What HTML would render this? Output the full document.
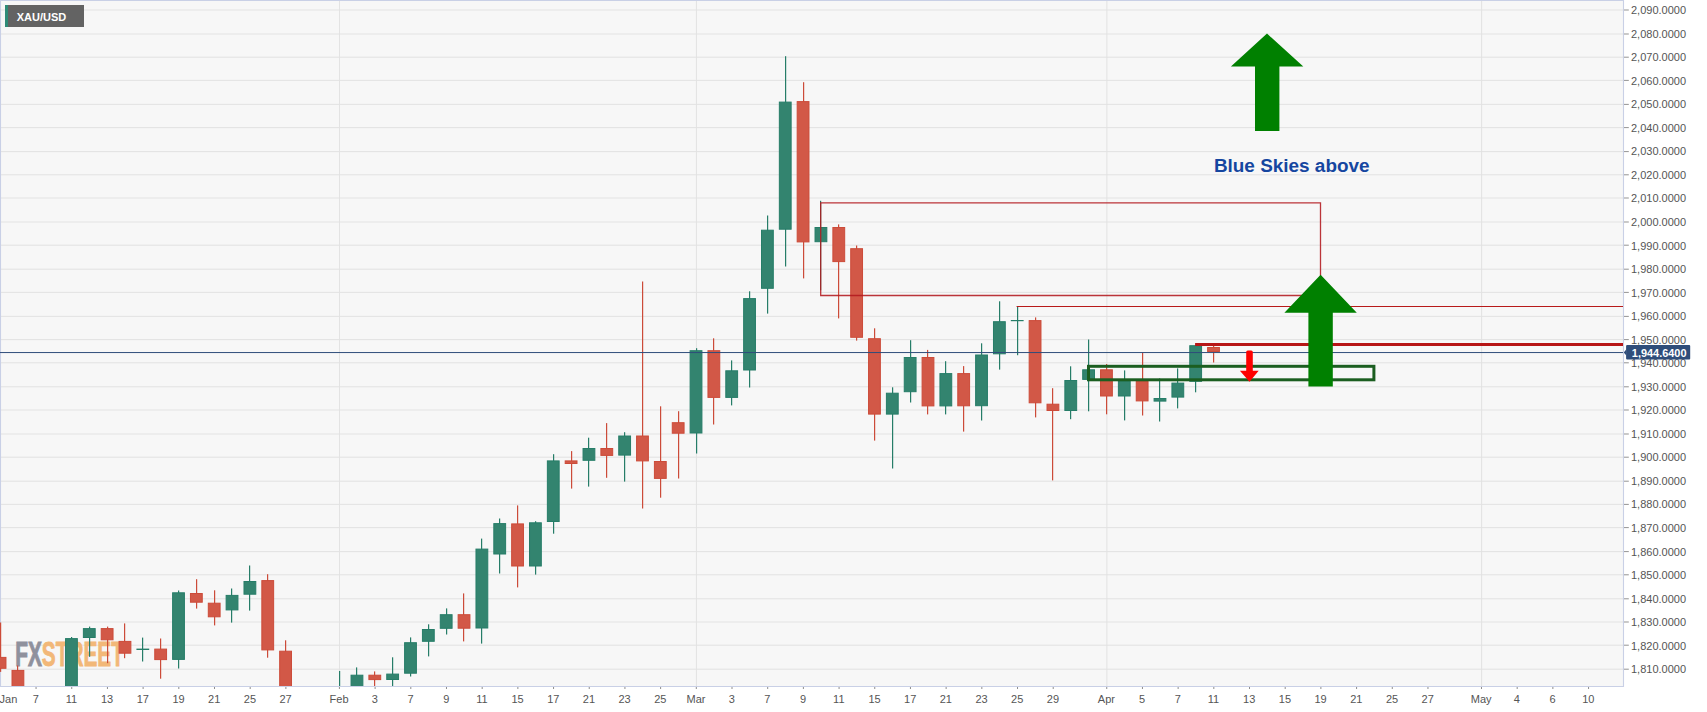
<!DOCTYPE html>
<html><head><meta charset="utf-8"><title>XAU/USD</title>
<style>
html,body{margin:0;padding:0;background:#fff;}
body{width:1707px;height:712px;overflow:hidden;}
svg{display:block;}
text{font-family:"Liberation Sans",Arial,sans-serif;}
</style></head><body>
<svg width="1707" height="712" viewBox="0 0 1707 712">
<defs><clipPath id="cp"><rect x="0" y="0" width="1623" height="686"/></clipPath></defs>
<rect x="0" y="0" width="1707" height="712" fill="#ffffff"/>
<rect x="0" y="0" width="1624" height="687" fill="#f7f7f7"/>
<g stroke="#e2e2e2" stroke-width="0.95">
<line x1="0" y1="669.20" x2="1623" y2="669.20"/>
<line x1="0" y1="645.20" x2="1623" y2="645.20"/>
<line x1="0" y1="622.00" x2="1623" y2="622.00"/>
<line x1="0" y1="598.80" x2="1623" y2="598.80"/>
<line x1="0" y1="574.80" x2="1623" y2="574.80"/>
<line x1="0" y1="551.60" x2="1623" y2="551.60"/>
<line x1="0" y1="527.60" x2="1623" y2="527.60"/>
<line x1="0" y1="504.40" x2="1623" y2="504.40"/>
<line x1="0" y1="481.20" x2="1623" y2="481.20"/>
<line x1="0" y1="457.20" x2="1623" y2="457.20"/>
<line x1="0" y1="434.00" x2="1623" y2="434.00"/>
<line x1="0" y1="410.00" x2="1623" y2="410.00"/>
<line x1="0" y1="386.80" x2="1623" y2="386.80"/>
<line x1="0" y1="362.80" x2="1623" y2="362.80"/>
<line x1="0" y1="339.60" x2="1623" y2="339.60"/>
<line x1="0" y1="316.40" x2="1623" y2="316.40"/>
<line x1="0" y1="292.40" x2="1623" y2="292.40"/>
<line x1="0" y1="269.20" x2="1623" y2="269.20"/>
<line x1="0" y1="245.20" x2="1623" y2="245.20"/>
<line x1="0" y1="222.00" x2="1623" y2="222.00"/>
<line x1="0" y1="198.00" x2="1623" y2="198.00"/>
<line x1="0" y1="174.80" x2="1623" y2="174.80"/>
<line x1="0" y1="151.60" x2="1623" y2="151.60"/>
<line x1="0" y1="127.60" x2="1623" y2="127.60"/>
<line x1="0" y1="104.40" x2="1623" y2="104.40"/>
<line x1="0" y1="80.40" x2="1623" y2="80.40"/>
<line x1="0" y1="57.20" x2="1623" y2="57.20"/>
<line x1="0" y1="34.00" x2="1623" y2="34.00"/>
<line x1="0" y1="10.00" x2="1623" y2="10.00"/>
<line x1="339.51" y1="0" x2="339.51" y2="686"/>
<line x1="696.41" y1="0" x2="696.41" y2="686"/>
<line x1="1106.85" y1="0" x2="1106.85" y2="686"/>
<line x1="1481.60" y1="0" x2="1481.60" y2="686"/>
</g>
<g fill="none" stroke="#c9d0e6" stroke-width="1.1"><path d="M0.5 686.5 L0.5 0.5 L1623.5 0.5 L1623.5 686.5 Z"/></g>
<g transform="translate(15.2,666.4) scale(0.585,1)" font-weight="bold" font-size="35.6px" stroke-width="0.9" stroke-linejoin="miter"><text x="0" y="0" fill="#8f919d" stroke="#8f919d" vector-effect="non-scaling-stroke">FX<tspan fill="#f2b878" stroke="#f2b878">STREET</tspan></text></g>
<g clip-path="url(#cp)">
<rect x="0" y="622.5" width="1.2" height="49.4" fill="#cc4b39"/>
<rect x="-5.84" y="657.4" width="11.8" height="10.9" fill="#d25847" stroke="#cc4b39" stroke-width="1"/>
<rect x="17" y="665.5" width="1.2" height="34.5" fill="#cc4b39"/>
<rect x="12.01" y="670.4" width="11.8" height="29.1" fill="#d25847" stroke="#cc4b39" stroke-width="1"/>
<rect x="71" y="637.0" width="1.2" height="63.0" fill="#267d68"/>
<rect x="65.54" y="638.6" width="11.8" height="60.9" fill="#33846f" stroke="#267d68" stroke-width="1"/>
<rect x="89" y="626.6" width="1.2" height="30.2" fill="#267d68"/>
<rect x="83.38" y="628.6" width="11.8" height="8.9" fill="#33846f" stroke="#267d68" stroke-width="1"/>
<rect x="107" y="626.6" width="1.2" height="36.6" fill="#cc4b39"/>
<rect x="101.23" y="628.6" width="11.8" height="11.2" fill="#d25847" stroke="#cc4b39" stroke-width="1"/>
<rect x="124" y="623.4" width="1.2" height="34.8" fill="#cc4b39"/>
<rect x="119.07" y="641.4" width="11.8" height="11.8" fill="#d25847" stroke="#cc4b39" stroke-width="1"/>
<rect x="142" y="637.6" width="1.2" height="23.9" fill="#267d68"/>
<rect x="136.42" y="648.6" width="12.8" height="1.4" fill="#267d68"/>
<rect x="160" y="638.5" width="1.2" height="40.2" fill="#cc4b39"/>
<rect x="154.76" y="649.1" width="11.8" height="10.5" fill="#d25847" stroke="#cc4b39" stroke-width="1"/>
<rect x="178" y="590.5" width="1.2" height="78.0" fill="#267d68"/>
<rect x="172.61" y="592.8" width="11.8" height="66.6" fill="#33846f" stroke="#267d68" stroke-width="1"/>
<rect x="196" y="579.2" width="1.2" height="29.4" fill="#cc4b39"/>
<rect x="190.45" y="593.5" width="11.8" height="8.7" fill="#d25847" stroke="#cc4b39" stroke-width="1"/>
<rect x="214" y="590.3" width="1.2" height="35.1" fill="#cc4b39"/>
<rect x="208.30" y="603.2" width="11.8" height="13.6" fill="#d25847" stroke="#cc4b39" stroke-width="1"/>
<rect x="231" y="588.5" width="1.2" height="34.1" fill="#267d68"/>
<rect x="226.14" y="595.4" width="11.8" height="14.5" fill="#33846f" stroke="#267d68" stroke-width="1"/>
<rect x="249" y="565.5" width="1.2" height="45.1" fill="#267d68"/>
<rect x="243.99" y="581.5" width="11.8" height="12.7" fill="#33846f" stroke="#267d68" stroke-width="1"/>
<rect x="267" y="574.2" width="1.2" height="83.5" fill="#cc4b39"/>
<rect x="261.84" y="580.6" width="11.8" height="69.3" fill="#d25847" stroke="#cc4b39" stroke-width="1"/>
<rect x="285" y="640.3" width="1.2" height="59.7" fill="#cc4b39"/>
<rect x="279.68" y="651.2" width="11.8" height="48.3" fill="#d25847" stroke="#cc4b39" stroke-width="1"/>
<rect x="339" y="671.0" width="1.2" height="29.0" fill="#267d68"/>
<rect x="332.72" y="699.0" width="12.8" height="1.2" fill="#267d68"/>
<rect x="356" y="667.4" width="1.2" height="32.6" fill="#267d68"/>
<rect x="351.06" y="675.2" width="11.8" height="24.3" fill="#33846f" stroke="#267d68" stroke-width="1"/>
<rect x="374" y="671.4" width="1.2" height="28.6" fill="#cc4b39"/>
<rect x="368.90" y="675.2" width="11.8" height="4.4" fill="#d25847" stroke="#cc4b39" stroke-width="1"/>
<rect x="392" y="657.3" width="1.2" height="42.7" fill="#267d68"/>
<rect x="386.75" y="674.1" width="11.8" height="5.4" fill="#33846f" stroke="#267d68" stroke-width="1"/>
<rect x="410" y="637.4" width="1.2" height="39.1" fill="#267d68"/>
<rect x="404.60" y="642.7" width="11.8" height="30.5" fill="#33846f" stroke="#267d68" stroke-width="1"/>
<rect x="428" y="624.3" width="1.2" height="32.1" fill="#267d68"/>
<rect x="422.44" y="629.5" width="11.8" height="11.8" fill="#33846f" stroke="#267d68" stroke-width="1"/>
<rect x="446" y="608.4" width="1.2" height="26.1" fill="#267d68"/>
<rect x="440.28" y="614.7" width="11.8" height="13.6" fill="#33846f" stroke="#267d68" stroke-width="1"/>
<rect x="463" y="593.4" width="1.2" height="48.0" fill="#cc4b39"/>
<rect x="458.13" y="614.7" width="11.8" height="13.5" fill="#d25847" stroke="#cc4b39" stroke-width="1"/>
<rect x="481" y="538.6" width="1.2" height="105.0" fill="#267d68"/>
<rect x="475.98" y="549.1" width="11.8" height="78.9" fill="#33846f" stroke="#267d68" stroke-width="1"/>
<rect x="499" y="518.5" width="1.2" height="55.0" fill="#267d68"/>
<rect x="493.82" y="523.6" width="11.8" height="30.4" fill="#33846f" stroke="#267d68" stroke-width="1"/>
<rect x="517" y="505.4" width="1.2" height="82.0" fill="#cc4b39"/>
<rect x="511.66" y="523.9" width="11.8" height="42.1" fill="#d25847" stroke="#cc4b39" stroke-width="1"/>
<rect x="535" y="521.2" width="1.2" height="53.4" fill="#267d68"/>
<rect x="529.51" y="522.8" width="11.8" height="43.2" fill="#33846f" stroke="#267d68" stroke-width="1"/>
<rect x="553" y="454.2" width="1.2" height="79.5" fill="#267d68"/>
<rect x="547.36" y="460.9" width="11.8" height="60.6" fill="#33846f" stroke="#267d68" stroke-width="1"/>
<rect x="571" y="451.1" width="1.2" height="37.5" fill="#cc4b39"/>
<rect x="565.20" y="460.9" width="11.8" height="2.6" fill="#d25847" stroke="#cc4b39" stroke-width="1"/>
<rect x="588" y="437.7" width="1.2" height="48.9" fill="#267d68"/>
<rect x="583.04" y="448.5" width="11.8" height="11.8" fill="#33846f" stroke="#267d68" stroke-width="1"/>
<rect x="606" y="423.1" width="1.2" height="54.7" fill="#cc4b39"/>
<rect x="600.89" y="448.5" width="11.8" height="6.9" fill="#d25847" stroke="#cc4b39" stroke-width="1"/>
<rect x="624" y="432.2" width="1.2" height="49.4" fill="#267d68"/>
<rect x="618.74" y="436.0" width="11.8" height="19.1" fill="#33846f" stroke="#267d68" stroke-width="1"/>
<rect x="642" y="281.5" width="1.2" height="227.0" fill="#cc4b39"/>
<rect x="636.58" y="436.0" width="11.8" height="24.9" fill="#d25847" stroke="#cc4b39" stroke-width="1"/>
<rect x="660" y="406.3" width="1.2" height="91.4" fill="#cc4b39"/>
<rect x="654.42" y="461.5" width="11.8" height="16.9" fill="#d25847" stroke="#cc4b39" stroke-width="1"/>
<rect x="678" y="411.2" width="1.2" height="67.3" fill="#cc4b39"/>
<rect x="672.27" y="422.7" width="11.8" height="10.5" fill="#d25847" stroke="#cc4b39" stroke-width="1"/>
<rect x="696" y="348.2" width="1.2" height="105.3" fill="#267d68"/>
<rect x="690.12" y="350.7" width="11.8" height="82.3" fill="#33846f" stroke="#267d68" stroke-width="1"/>
<rect x="713" y="338.3" width="1.2" height="86.2" fill="#cc4b39"/>
<rect x="707.96" y="350.7" width="11.8" height="46.7" fill="#d25847" stroke="#cc4b39" stroke-width="1"/>
<rect x="731" y="360.4" width="1.2" height="45.0" fill="#267d68"/>
<rect x="725.80" y="370.8" width="11.8" height="26.6" fill="#33846f" stroke="#267d68" stroke-width="1"/>
<rect x="749" y="291.3" width="1.2" height="96.2" fill="#267d68"/>
<rect x="743.65" y="298.6" width="11.8" height="71.4" fill="#33846f" stroke="#267d68" stroke-width="1"/>
<rect x="767" y="215.5" width="1.2" height="98.1" fill="#267d68"/>
<rect x="761.50" y="230.2" width="11.8" height="58.1" fill="#33846f" stroke="#267d68" stroke-width="1"/>
<rect x="785" y="56.2" width="1.2" height="210.3" fill="#267d68"/>
<rect x="779.34" y="102.1" width="11.8" height="127.1" fill="#33846f" stroke="#267d68" stroke-width="1"/>
<rect x="803" y="82.2" width="1.2" height="196.2" fill="#cc4b39"/>
<rect x="797.18" y="101.6" width="11.8" height="140.3" fill="#d25847" stroke="#cc4b39" stroke-width="1"/>
<rect x="820" y="200.8" width="1.2" height="89.5" fill="#267d68"/>
<rect x="815.03" y="227.5" width="11.8" height="14.2" fill="#33846f" stroke="#267d68" stroke-width="1"/>
<rect x="838" y="224.4" width="1.2" height="94.0" fill="#cc4b39"/>
<rect x="832.88" y="227.5" width="11.8" height="34.1" fill="#d25847" stroke="#cc4b39" stroke-width="1"/>
<rect x="856" y="245.5" width="1.2" height="95.1" fill="#cc4b39"/>
<rect x="850.72" y="248.7" width="11.8" height="88.6" fill="#d25847" stroke="#cc4b39" stroke-width="1"/>
<rect x="874" y="328.3" width="1.2" height="112.3" fill="#cc4b39"/>
<rect x="868.56" y="338.7" width="11.8" height="75.4" fill="#d25847" stroke="#cc4b39" stroke-width="1"/>
<rect x="892" y="387.3" width="1.2" height="81.2" fill="#267d68"/>
<rect x="886.41" y="393.2" width="11.8" height="20.9" fill="#33846f" stroke="#267d68" stroke-width="1"/>
<rect x="910" y="340.2" width="1.2" height="62.3" fill="#267d68"/>
<rect x="904.25" y="357.5" width="11.8" height="34.2" fill="#33846f" stroke="#267d68" stroke-width="1"/>
<rect x="927" y="349.9" width="1.2" height="64.5" fill="#cc4b39"/>
<rect x="922.10" y="357.5" width="11.8" height="48.4" fill="#d25847" stroke="#cc4b39" stroke-width="1"/>
<rect x="945" y="361.2" width="1.2" height="53.2" fill="#267d68"/>
<rect x="939.94" y="373.6" width="11.8" height="32.3" fill="#33846f" stroke="#267d68" stroke-width="1"/>
<rect x="963" y="366.1" width="1.2" height="65.5" fill="#cc4b39"/>
<rect x="957.79" y="373.6" width="11.8" height="32.2" fill="#d25847" stroke="#cc4b39" stroke-width="1"/>
<rect x="981" y="343.3" width="1.2" height="77.2" fill="#267d68"/>
<rect x="975.63" y="355.0" width="11.8" height="50.7" fill="#33846f" stroke="#267d68" stroke-width="1"/>
<rect x="999" y="301.3" width="1.2" height="68.3" fill="#267d68"/>
<rect x="993.48" y="321.7" width="11.8" height="32.1" fill="#33846f" stroke="#267d68" stroke-width="1"/>
<rect x="1017" y="306.5" width="1.2" height="48.7" fill="#267d68"/>
<rect x="1010.82" y="320.0" width="12.8" height="1.2" fill="#267d68"/>
<rect x="1035" y="317.4" width="1.2" height="100.0" fill="#cc4b39"/>
<rect x="1029.17" y="320.6" width="11.8" height="82.2" fill="#d25847" stroke="#cc4b39" stroke-width="1"/>
<rect x="1052" y="388.2" width="1.2" height="92.2" fill="#cc4b39"/>
<rect x="1047.01" y="404.2" width="11.8" height="6.3" fill="#d25847" stroke="#cc4b39" stroke-width="1"/>
<rect x="1070" y="366.3" width="1.2" height="52.9" fill="#267d68"/>
<rect x="1064.86" y="380.5" width="11.8" height="30.0" fill="#33846f" stroke="#267d68" stroke-width="1"/>
<rect x="1088" y="339.5" width="1.2" height="71.8" fill="#267d68"/>
<rect x="1082.70" y="369.8" width="11.8" height="9.6" fill="#33846f" stroke="#267d68" stroke-width="1"/>
<rect x="1106" y="364.0" width="1.2" height="50.3" fill="#cc4b39"/>
<rect x="1100.55" y="369.8" width="11.8" height="26.2" fill="#d25847" stroke="#cc4b39" stroke-width="1"/>
<rect x="1124" y="370.4" width="1.2" height="50.0" fill="#267d68"/>
<rect x="1118.39" y="380.9" width="11.8" height="15.1" fill="#33846f" stroke="#267d68" stroke-width="1"/>
<rect x="1142" y="352.6" width="1.2" height="62.9" fill="#cc4b39"/>
<rect x="1136.24" y="380.9" width="11.8" height="20.0" fill="#d25847" stroke="#cc4b39" stroke-width="1"/>
<rect x="1159" y="378.4" width="1.2" height="43.1" fill="#267d68"/>
<rect x="1154.08" y="398.5" width="11.8" height="2.6" fill="#33846f" stroke="#267d68" stroke-width="1"/>
<rect x="1177" y="368.4" width="1.2" height="40.0" fill="#267d68"/>
<rect x="1171.93" y="383.1" width="11.8" height="14.0" fill="#33846f" stroke="#267d68" stroke-width="1"/>
<rect x="1195" y="344.7" width="1.2" height="47.6" fill="#267d68"/>
<rect x="1189.77" y="345.7" width="11.8" height="35.6" fill="#33846f" stroke="#267d68" stroke-width="1"/>
<rect x="1213" y="346.0" width="1.2" height="16.5" fill="#cc4b39"/>
<rect x="1207.62" y="347.5" width="11.8" height="4.0" fill="#d25847" stroke="#cc4b39" stroke-width="1"/>
</g>
<g fill="none">
<path d="M820.7 295.5 L820.7 202.85 L1320.5 202.85 L1320.5 295.5 Z" stroke="#b3191f" stroke-opacity="0.88" stroke-width="1.3"/>
<path d="M1016.6 306.5 L1623 306.5" stroke="#b81a1a" stroke-width="1.15"/>
<line x1="0" y1="352.55" x2="1623" y2="352.55" stroke="#2f4d7a" stroke-width="1"/>
<rect x="1088.5" y="366.3" width="285.4" height="13.5" stroke="#1b5e20" stroke-width="3"/>
<line x1="1195.1" y1="344.45" x2="1623" y2="344.45" stroke="#b71616" stroke-width="2.9"/>
</g>
<path d="M1246.2 352 Q1246.2 350.4 1247.8 350.4 L1251.2 350.4 Q1252.8 350.4 1252.8 352 L1252.8 370.8 L1258.7 370.8 L1249.5 381.8 L1239.9 370.8 L1246.2 370.8 Z" fill="#ff0000"/>
<path d="M1320.6 274.7 L1356.8 312.7 L1332.8 312.7 L1332.8 386.6 L1308.4 386.6 L1308.4 312.7 L1284.4 312.7 Z" fill="#008000"/>
<path d="M1267 33.6 L1303.3 66.6 L1279.4 66.6 L1279.4 131.1 L1255 131.1 L1255 66.6 L1230.9 66.6 Z" fill="#008000"/>
<text x="1213.9" y="171.9" font-size="18.93px" font-weight="bold" fill="#1546a0">Blue Skies above</text>
<rect x="5" y="5" width="79" height="22" fill="#636363"/><rect x="5" y="5" width="3" height="22" fill="#2e8b77"/>
<text x="16.7" y="21" font-size="11px" font-weight="bold" fill="#ffffff">XAU/USD</text>
<g stroke="#8e8e8e" stroke-width="0.95">
<line x1="1624" y1="669.20" x2="1628.8" y2="669.20"/>
<line x1="1624" y1="645.20" x2="1628.8" y2="645.20"/>
<line x1="1624" y1="622.00" x2="1628.8" y2="622.00"/>
<line x1="1624" y1="598.80" x2="1628.8" y2="598.80"/>
<line x1="1624" y1="574.80" x2="1628.8" y2="574.80"/>
<line x1="1624" y1="551.60" x2="1628.8" y2="551.60"/>
<line x1="1624" y1="527.60" x2="1628.8" y2="527.60"/>
<line x1="1624" y1="504.40" x2="1628.8" y2="504.40"/>
<line x1="1624" y1="481.20" x2="1628.8" y2="481.20"/>
<line x1="1624" y1="457.20" x2="1628.8" y2="457.20"/>
<line x1="1624" y1="434.00" x2="1628.8" y2="434.00"/>
<line x1="1624" y1="410.00" x2="1628.8" y2="410.00"/>
<line x1="1624" y1="386.80" x2="1628.8" y2="386.80"/>
<line x1="1624" y1="362.80" x2="1628.8" y2="362.80"/>
<line x1="1624" y1="339.60" x2="1628.8" y2="339.60"/>
<line x1="1624" y1="316.40" x2="1628.8" y2="316.40"/>
<line x1="1624" y1="292.40" x2="1628.8" y2="292.40"/>
<line x1="1624" y1="269.20" x2="1628.8" y2="269.20"/>
<line x1="1624" y1="245.20" x2="1628.8" y2="245.20"/>
<line x1="1624" y1="222.00" x2="1628.8" y2="222.00"/>
<line x1="1624" y1="198.00" x2="1628.8" y2="198.00"/>
<line x1="1624" y1="174.80" x2="1628.8" y2="174.80"/>
<line x1="1624" y1="151.60" x2="1628.8" y2="151.60"/>
<line x1="1624" y1="127.60" x2="1628.8" y2="127.60"/>
<line x1="1624" y1="104.40" x2="1628.8" y2="104.40"/>
<line x1="1624" y1="80.40" x2="1628.8" y2="80.40"/>
<line x1="1624" y1="57.20" x2="1628.8" y2="57.20"/>
<line x1="1624" y1="34.00" x2="1628.8" y2="34.00"/>
<line x1="1624" y1="10.00" x2="1628.8" y2="10.00"/>
</g>
<g font-size="11px" fill="#555555">
<text x="1631" y="673">1,810.0000</text>
<text x="1631" y="650">1,820.0000</text>
<text x="1631" y="626">1,830.0000</text>
<text x="1631" y="603">1,840.0000</text>
<text x="1631" y="579">1,850.0000</text>
<text x="1631" y="556">1,860.0000</text>
<text x="1631" y="532">1,870.0000</text>
<text x="1631" y="508">1,880.0000</text>
<text x="1631" y="485">1,890.0000</text>
<text x="1631" y="461">1,900.0000</text>
<text x="1631" y="438">1,910.0000</text>
<text x="1631" y="414">1,920.0000</text>
<text x="1631" y="391">1,930.0000</text>
<text x="1631" y="367">1,940.0000</text>
<text x="1631" y="344">1,950.0000</text>
<text x="1631" y="320">1,960.0000</text>
<text x="1631" y="297">1,970.0000</text>
<text x="1631" y="273">1,980.0000</text>
<text x="1631" y="250">1,990.0000</text>
<text x="1631" y="226">2,000.0000</text>
<text x="1631" y="202">2,010.0000</text>
<text x="1631" y="179">2,020.0000</text>
<text x="1631" y="155">2,030.0000</text>
<text x="1631" y="132">2,040.0000</text>
<text x="1631" y="108">2,050.0000</text>
<text x="1631" y="85">2,060.0000</text>
<text x="1631" y="61">2,070.0000</text>
<text x="1631" y="38">2,080.0000</text>
<text x="1631" y="14">2,090.0000</text>
</g>
<rect x="1626.1" y="345" width="64.1" height="14.6" rx="1" fill="#2f4d7a"/><path d="M1626.3 349.2 L1623.8 352.4 L1626.3 355.6 Z" fill="#2f4d7a"/>
<text x="1631.8" y="356.6" font-size="10.95px" font-weight="bold" fill="#ffffff">1,944.6400</text>
<g stroke="#8e8e8e" stroke-width="1">
<line x1="36.05" y1="687" x2="36.05" y2="689"/>
<line x1="71.74" y1="687" x2="71.74" y2="689"/>
<line x1="107.43" y1="687" x2="107.43" y2="689"/>
<line x1="143.12" y1="687" x2="143.12" y2="689"/>
<line x1="178.81" y1="687" x2="178.81" y2="689"/>
<line x1="214.50" y1="687" x2="214.50" y2="689"/>
<line x1="250.19" y1="687" x2="250.19" y2="689"/>
<line x1="285.88" y1="687" x2="285.88" y2="689"/>
<line x1="339.42" y1="687" x2="339.42" y2="689"/>
<line x1="375.10" y1="687" x2="375.10" y2="689"/>
<line x1="410.80" y1="687" x2="410.80" y2="689"/>
<line x1="446.48" y1="687" x2="446.48" y2="689"/>
<line x1="482.18" y1="687" x2="482.18" y2="689"/>
<line x1="517.86" y1="687" x2="517.86" y2="689"/>
<line x1="553.55" y1="687" x2="553.55" y2="689"/>
<line x1="589.24" y1="687" x2="589.24" y2="689"/>
<line x1="624.93" y1="687" x2="624.93" y2="689"/>
<line x1="660.62" y1="687" x2="660.62" y2="689"/>
<line x1="696.31" y1="687" x2="696.31" y2="689"/>
<line x1="732.00" y1="687" x2="732.00" y2="689"/>
<line x1="767.69" y1="687" x2="767.69" y2="689"/>
<line x1="803.38" y1="687" x2="803.38" y2="689"/>
<line x1="839.07" y1="687" x2="839.07" y2="689"/>
<line x1="874.76" y1="687" x2="874.76" y2="689"/>
<line x1="910.45" y1="687" x2="910.45" y2="689"/>
<line x1="946.14" y1="687" x2="946.14" y2="689"/>
<line x1="981.83" y1="687" x2="981.83" y2="689"/>
<line x1="1017.52" y1="687" x2="1017.52" y2="689"/>
<line x1="1053.21" y1="687" x2="1053.21" y2="689"/>
<line x1="1106.75" y1="687" x2="1106.75" y2="689"/>
<line x1="1142.44" y1="687" x2="1142.44" y2="689"/>
<line x1="1178.13" y1="687" x2="1178.13" y2="689"/>
<line x1="1213.82" y1="687" x2="1213.82" y2="689"/>
<line x1="1249.51" y1="687" x2="1249.51" y2="689"/>
<line x1="1285.20" y1="687" x2="1285.20" y2="689"/>
<line x1="1320.89" y1="687" x2="1320.89" y2="689"/>
<line x1="1356.58" y1="687" x2="1356.58" y2="689"/>
<line x1="1392.27" y1="687" x2="1392.27" y2="689"/>
<line x1="1427.96" y1="687" x2="1427.96" y2="689"/>
<line x1="1481.49" y1="687" x2="1481.49" y2="689"/>
<line x1="1517.18" y1="687" x2="1517.18" y2="689"/>
<line x1="1552.87" y1="687" x2="1552.87" y2="689"/>
<line x1="1588.56" y1="687" x2="1588.56" y2="689"/>
</g>
<g font-size="11px" fill="#555555" text-anchor="middle">
<text x="35.8" y="702.8">7</text>
<text x="71.4" y="702.8">11</text>
<text x="107.1" y="702.8">13</text>
<text x="142.8" y="702.8">17</text>
<text x="178.5" y="702.8">19</text>
<text x="214.2" y="702.8">21</text>
<text x="249.9" y="702.8">25</text>
<text x="285.6" y="702.8">27</text>
<text x="339.1" y="702.8">Feb</text>
<text x="374.8" y="702.8">3</text>
<text x="410.5" y="702.8">7</text>
<text x="446.2" y="702.8">9</text>
<text x="481.9" y="702.8">11</text>
<text x="517.6" y="702.8">15</text>
<text x="553.3" y="702.8">17</text>
<text x="588.9" y="702.8">21</text>
<text x="624.6" y="702.8">23</text>
<text x="660.3" y="702.8">25</text>
<text x="696.0" y="702.8">Mar</text>
<text x="731.7" y="702.8">3</text>
<text x="767.4" y="702.8">7</text>
<text x="803.1" y="702.8">9</text>
<text x="838.8" y="702.8">11</text>
<text x="874.5" y="702.8">15</text>
<text x="910.2" y="702.8">17</text>
<text x="945.8" y="702.8">21</text>
<text x="981.5" y="702.8">23</text>
<text x="1017.2" y="702.8">25</text>
<text x="1052.9" y="702.8">29</text>
<text x="1106.4" y="702.8">Apr</text>
<text x="1142.1" y="702.8">5</text>
<text x="1177.8" y="702.8">7</text>
<text x="1213.5" y="702.8">11</text>
<text x="1249.2" y="702.8">13</text>
<text x="1284.9" y="702.8">15</text>
<text x="1320.6" y="702.8">19</text>
<text x="1356.3" y="702.8">21</text>
<text x="1392.0" y="702.8">25</text>
<text x="1427.7" y="702.8">27</text>
<text x="1481.2" y="702.8">May</text>
<text x="1516.9" y="702.8">4</text>
<text x="1552.6" y="702.8">6</text>
<text x="1588.3" y="702.8">10</text>
</g>
<text x="-0.4" y="702.8" font-size="11px" fill="#555555">Jan</text>
</svg>
</body></html>
